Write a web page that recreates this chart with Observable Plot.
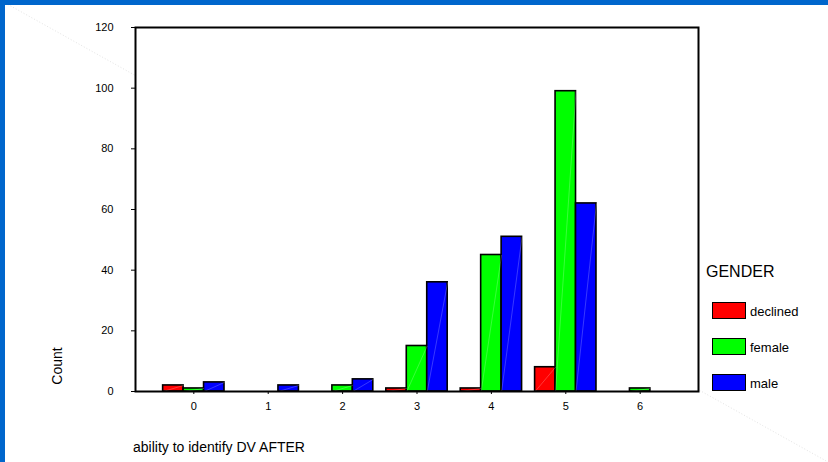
<!DOCTYPE html>
<html>
<head>
<meta charset="utf-8">
<script src="https://cdn.jsdelivr.net/npm/d3@7"></script>
<script src="https://cdn.jsdelivr.net/npm/@observablehq/plot@0.6"></script>
<style>
  html, body { margin: 0; padding: 0; background: #fff; }
  #wrap { position: relative; width: 828px; height: 462px; overflow: hidden;
          font-family: "Liberation Sans", Arial, sans-serif; color: #000; }
  #bg, #chart { position: absolute; left: 0; top: 0; }
  .btop { position: absolute; left: 0; top: 0; width: 828px; height: 5px; background: #0066cc; }
  .bleft { position: absolute; left: 0; top: 0; width: 5px; height: 462px; background: #0066cc; }
  #ylabel { position: absolute; left: 57px; top: 366px; font-size: 14px; white-space: nowrap;
            transform: translate(-50%, -50%) rotate(-90deg); line-height: 1; }
  #xlabel { position: absolute; left: 133px; top: 447px; font-size: 14px; white-space: nowrap;
            transform: translateY(-50%); line-height: 1; }
  #legtitle { position: absolute; left: 706px; top: 272px; font-size: 16px; transform: translateY(-50%); line-height: 1; }
  .sw { position: absolute; left: 712px; width: 34px; height: 17px; box-sizing: border-box; border: 1.5px solid #000; }
  .lt { position: absolute; left: 750px; font-size: 13px; transform: translateY(-50%); line-height: 1; }
</style>
</head>
<body>
<div id="wrap">
  <svg id="bg" width="828" height="462"><line x1="0" y1="0" x2="828" y2="462" stroke="#e4e4e4" stroke-dasharray="1,2"/></svg>
  <div id="chart"></div>
  <div class="btop"></div>
  <div class="bleft"></div>
  <div id="ylabel">Count</div>
  <div id="xlabel">ability to identify DV AFTER</div>
  <div id="legend"></div>
</div>
<script>
const categories = [0, 1, 2, 3, 4, 5, 6];
const genders = ["declined", "female", "male"];
const declined = [2, 0, 0, 1, 1, 8, 0];
const female = [1, 0, 2, 15, 45, 99, 1];
const male = [3, 2, 4, 36, 51, 62, 0];
const colors = ["#ff0000", "#00ff00", "#0000ff"];
const yTicks = [0, 20, 40, 60, 80, 100, 120];

const series = [declined, female, male];
const bw = 0.275;
const rows = [];
categories.forEach((c, i) => {
  genders.forEach((g, j) => {
    const v = series[j][i];
    if (v > 0) {
      const x1 = c + (j - 1.5) * bw;
      rows.push({category: c, gender: g, value: v, x1, x2: x1 + bw});
    }
  });
});

const chart = Plot.plot({
  width: 828,
  height: 462,
  marginLeft: 135,
  marginRight: 130,
  marginTop: 27,
  marginBottom: 71,
  style: {background: "transparent", fontFamily: "Liberation Sans, Arial, sans-serif", fontSize: "11px", color: "#000"},
  x: {domain: [-0.784, 6.784], ticks: categories, tickFormat: d => String(d), tickSize: 3, tickPadding: 8, label: null},
  y: {domain: [0, 120], ticks: yTicks, tickSize: 4, tickPadding: 18, label: null},
  color: {domain: genders, range: colors},
  marks: [
    Plot.frame({fill: "white", stroke: "none"}),
    Plot.rectY(rows, {x1: "x1", x2: "x2", y1: 0, y2: "value", fill: "gender", stroke: "black", strokeWidth: 1.6}),
    Plot.link(rows, {x1: "x1", x2: "x2", y1: 0, y2: "value", stroke: "white", strokeOpacity: 0.22, strokeWidth: 1}),
    Plot.frame({stroke: "black", strokeWidth: 2})
  ]
});
document.getElementById("chart").appendChild(chart);

const legend = document.getElementById("legend");
const lt = document.createElement("div");
lt.id = "legtitle"; lt.textContent = "GENDER";
legend.appendChild(lt);
const swTops = [302, 338, 374];
genders.forEach((g, j) => {
  const s = document.createElement("div");
  s.className = "sw";
  s.style.top = swTops[j] + "px";
  s.style.background = colors[j];
  legend.appendChild(s);
  const t = document.createElement("div");
  t.className = "lt";
  t.style.top = (swTops[j] + 9) + "px";
  t.textContent = g;
  legend.appendChild(t);
});
</script>
</body>
</html>
